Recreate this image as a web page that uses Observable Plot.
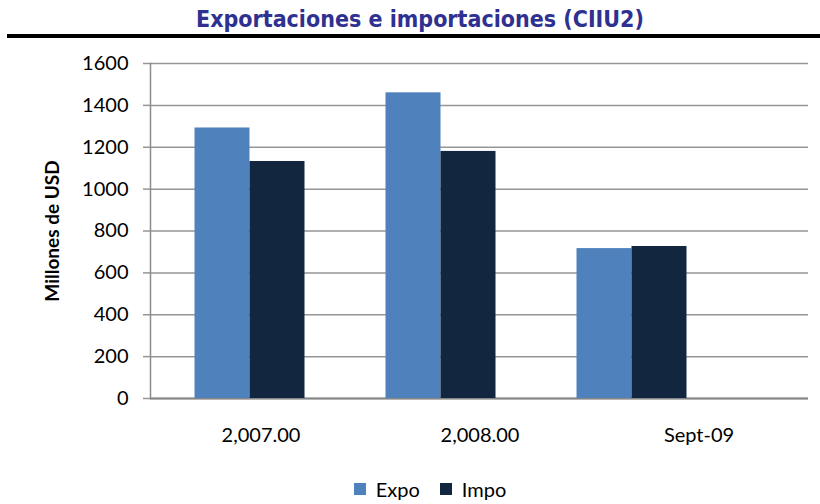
<!DOCTYPE html>
<html>
<head>
<meta charset="utf-8">
<script src="https://cdn.jsdelivr.net/npm/d3@7"></script>
<script src="https://cdn.jsdelivr.net/npm/@observablehq/plot@0.6"></script>
<style>
  html, body { margin: 0; padding: 0; background: #fff; }
  #wrap { position: relative; width: 820px; height: 504px; overflow: hidden; font-family: Lato, "Open Sans", sans-serif; }
  #title { position: absolute; top: 4px; left: 10px; width: 820px; text-align: center;
           font-family: "Liberation Sans Narrow", "DejaVu Sans Condensed", sans-serif; font-weight: bold;
           font-size: 23px; color: #2e3190; line-height: 30px; }
  #rule { position: absolute; top: 34px; left: 7px; width: 813px; height: 4px; background: #000; }
  .layer { position: absolute; top: 40px; left: 0; }
  .layer svg { display: block; }
  #legend { position: absolute; top: 474px; left: 30px; width: 820px; height: 30px; display: flex; justify-content: center; }
  #legend > * { min-height: 0 !important; margin: 0 !important; }
  [aria-label="y-axis label"] text { font-weight: bold; font-size: 19px; }
</style>
</head>
<body>
<div id="wrap">
  <div id="title">Exportaciones e importaciones (CIIU2)</div>
  <div id="rule"></div>
  <div id="back" class="layer"></div>
  <div id="front" class="layer"></div>
  <div id="legend"></div>
</div>
<script>
const categories = ["2,007.00", "2,008.00", "Sept-09"];
const series = ["Expo", "Impo"];
const expo = [1292, 1460, 716];
const impo = [1132, 1180, 726];
const yTicks = [0, 200, 400, 600, 800, 1000, 1200, 1400, 1600];
const colors = ["#4f81bd", "#12263f"];
const yLabel = "Millones de USD";

const rows = categories.flatMap((c, i) => [
  {cat: c, serie: series[0], value: expo[i]},
  {cat: c, serie: series[1], value: impo[i]}
]);

const fontStyle = {fontFamily: "Lato, 'Open Sans', sans-serif", fontSize: "20px", color: "#000", background: "transparent", overflow: "visible"};

const back = Plot.plot({
  width: 820, height: 420,
  marginTop: 23, marginBottom: 62, marginLeft: 150, marginRight: 12,
  style: fontStyle,
  x: {type: "band", domain: categories, padding: 0},
  y: {domain: [0, 1600]},
  marks: [
    Plot.gridY(yTicks, {stroke: "#969696", strokeOpacity: 1, strokeWidth: 1.5}),
    Plot.axisY(yTicks, {tickSize: 7, tickPadding: 15, stroke: "#969696", strokeWidth: 1.5,
      tickFormat: d3.format("d"), label: yLabel, labelAnchor: "center", labelArrow: "none", labelOffset: 105}),
    Plot.axisX({tickSize: 0, tickPadding: 29, label: null}),
    Plot.frame({anchor: "left", stroke: "#8c8c8c", strokeWidth: 1.5}),
    Plot.ruleY([0], {stroke: "#868686", strokeWidth: 2})
  ]
});
document.getElementById("back").append(back);

const front = Plot.plot({
  width: 820, height: 420,
  marginTop: 23, marginBottom: 62, marginLeft: 111.5, marginRight: 52.5,
  style: fontStyle,
  fx: {domain: categories, paddingInner: 0.4256, paddingOuter: 0.4256, axis: null, label: null},
  x: {domain: series, padding: 0, axis: null},
  y: {domain: [0, 1600], axis: null},
  color: {domain: series, range: colors},
  marks: [
    Plot.barY(rows, {fx: "cat", x: "serie", y: "value", fill: "serie", inset: 0})
  ]
});
document.getElementById("front").append(front);

const legend = Plot.legend({
  color: {type: "ordinal", domain: series, range: colors},
  swatchSize: 12,
  style: {fontFamily: "Lato, 'Open Sans', sans-serif", fontSize: "20px", color: "#000"}
});
document.getElementById("legend").append(legend);
</script>
</body>
</html>
